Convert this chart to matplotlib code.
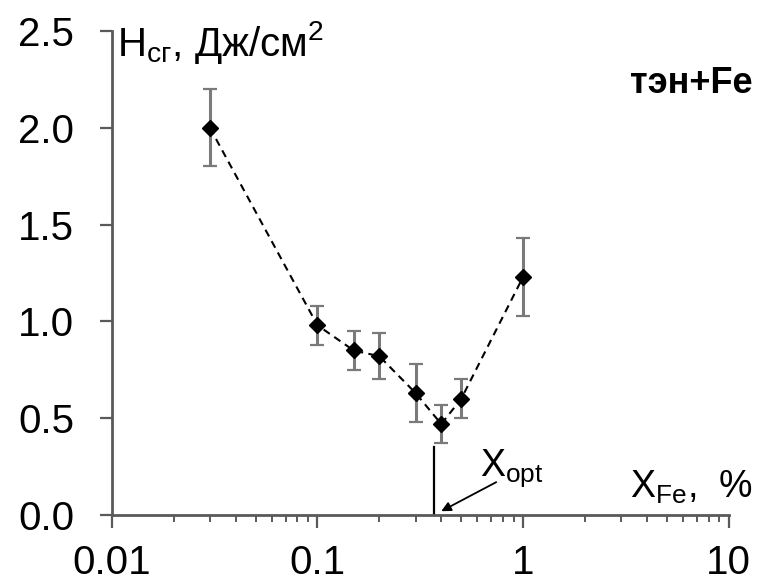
import matplotlib.pyplot as plt
from matplotlib.ticker import LogLocator, FixedLocator, NullFormatter

plt.rcParams['font.family'] = ['Liberation Sans', 'DejaVu Sans']

# data
x_fe = [0.03, 0.1, 0.15, 0.2, 0.3, 0.4, 0.5, 1.0]
h_cr = [2.0, 0.98, 0.85, 0.82, 0.63, 0.47, 0.6, 1.23]
h_err = [0.2, 0.1, 0.1, 0.12, 0.15, 0.1, 0.1, 0.2]
x_opt = 0.37
x_opt_height = 0.35
x_ticks = [0.01, 0.1, 1, 10]
x_tick_labels = ['0.01', '0.1', '1', '10']
y_ticks = [0.0, 0.5, 1.0, 1.5, 2.0, 2.5]

fig = plt.figure(figsize=(7.6, 5.82), dpi=100)
ax = fig.add_axes([0.147, 0.115, 0.812, 0.832])

ax.plot(x_fe, h_cr, linestyle=(0, (3.6, 2.6)), color='black', linewidth=1.5, zorder=2)
eb = ax.errorbar(x_fe, h_cr, yerr=h_err, fmt='none', ecolor='#7a7a7a',
                 elinewidth=2.2, capsize=5, capthick=1.6, zorder=3)
for cap in eb[1]:
    cap.set_color('#333333')
ax.plot(x_fe, h_cr, linestyle='none', marker='D', markersize=8,
        color='black', zorder=4)

ax.plot([x_opt, x_opt], [0, x_opt_height], color='black', linewidth=1.6, zorder=2)
ax.annotate('', xy=(0.40, 0.02), xytext=(0.74, 0.17),
            arrowprops=dict(arrowstyle='-|>', color='black', lw=1.3,
                            mutation_scale=14, shrinkA=0, shrinkB=0))

ax.set_xscale('log')
ax.set_xlim(0.01, 10)
ax.set_ylim(0, 2.5)
ax.xaxis.set_major_locator(FixedLocator(x_ticks))
ax.set_xticklabels(x_tick_labels)
ax.xaxis.set_minor_locator(LogLocator(base=10, subs=range(2, 10)))
ax.xaxis.set_minor_formatter(NullFormatter())
ax.set_yticks(y_ticks)
ax.set_yticklabels(['%.1f' % v for v in y_ticks])

for side in ['top', 'right']:
    ax.spines[side].set_visible(False)
for side in ['left', 'bottom']:
    ax.spines[side].set_color('#5a5a5a')
    ax.spines[side].set_linewidth(2.0)

ax.tick_params(axis='both', which='major', direction='out', length=9,
               width=1.6, color='#5a5a5a', labelsize=29)
ax.tick_params(axis='x', which='major', pad=12)
ax.tick_params(axis='y', which='major', pad=18)
ax.tick_params(axis='x', which='minor', direction='out', length=5,
               width=1.4, color='#5a5a5a')

ax.text(0.0106, 2.37, r'H$_{\mathregular{сг}}$, Дж/см$^{\mathregular{2}}$',
        fontsize=29, ha='left', va='baseline')
ax.text(1.039, 0.872, 'тэн+Fe', transform=ax.transAxes, fontsize=26,
        fontweight='bold', ha='right', va='baseline')
ax.text(0.62, 0.205, r'X$_{\mathregular{opt}}$', fontsize=27,
        ha='left', va='baseline')
ax.text(1.039, 0.035, r'X$_{\mathregular{Fe}}$,  %', transform=ax.transAxes,
        fontsize=27, ha='right', va='baseline')

fig.savefig('out.png', dpi=100)
